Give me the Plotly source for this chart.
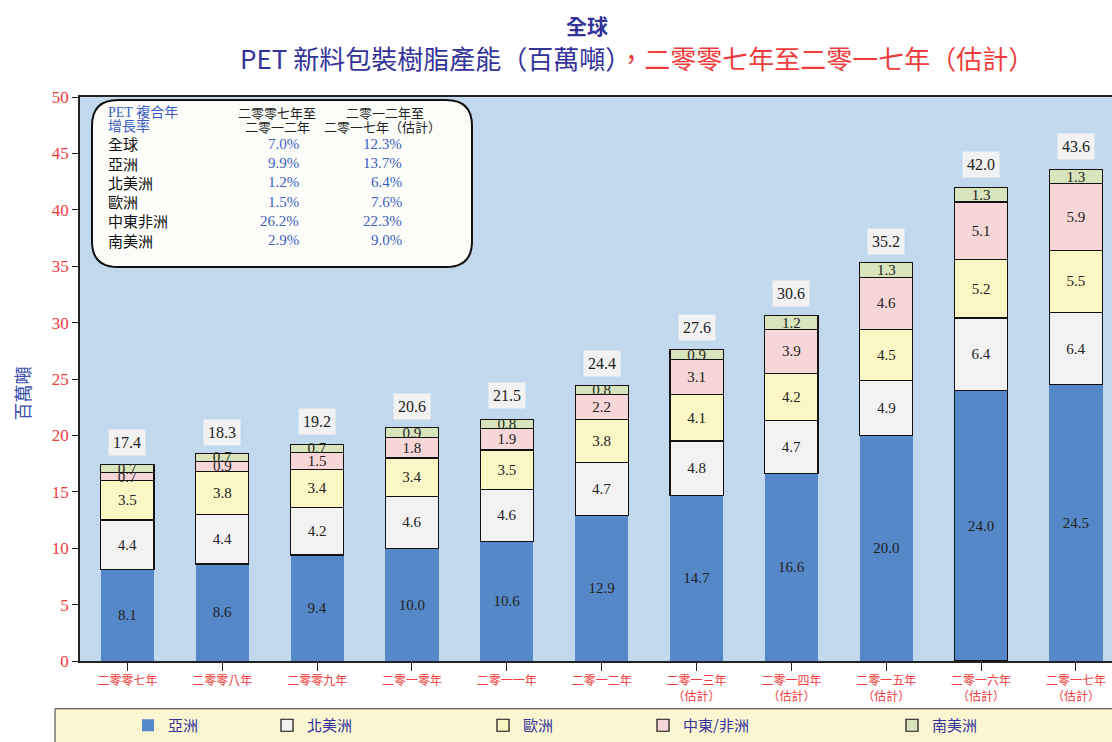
import plotly.graph_objects as go

# categories
years = ["二零零七年", "二零零八年", "二零零九年", "二零一零年", "二零一一年", "二零一二年",
         "二零一三年", "二零一四年", "二零一五年", "二零一六年", "二零一七年"]
estimated = [False] * 6 + [True] * 5

# capacity by region, million tonnes
asia = [8.1, 8.6, 9.4, 10.0, 10.6, 12.9, 14.7, 16.6, 20.0, 24.0, 24.5]
north_america = [4.4, 4.4, 4.2, 4.6, 4.6, 4.7, 4.8, 4.7, 4.9, 6.4, 6.4]
europe = [3.5, 3.8, 3.4, 3.4, 3.5, 3.8, 4.1, 4.2, 4.5, 5.2, 5.5]
mea = [0.7, 0.9, 1.5, 1.8, 1.9, 2.2, 3.1, 3.9, 4.6, 5.1, 5.9]
south_america = [0.7, 0.7, 0.7, 0.9, 0.8, 0.8, 0.9, 1.2, 1.3, 1.3, 1.3]
totals = [17.4, 18.3, 19.2, 20.6, 21.5, 24.4, 27.6, 30.6, 35.2, 42.0, 43.6]

# inset CAGR table
cagr_regions = ["全球", "亞洲", "北美洲", "歐洲", "中東非洲", "南美洲"]
cagr_07_12 = ["7.0%", "9.9%", "1.2%", "1.5%", "26.2%", "2.9%"]
cagr_12_17 = ["12.3%", "13.7%", "6.4%", "7.6%", "22.3%", "9.0%"]

W, H = 1112, 742
ML, MR, MT, MB = 80, 0, 97, 78
PW, PH = W - ML - MR, H - MT - MB


def px(x):
    return (x - ML) / PW


def py(y):
    return (H - MB - y) / PH


def note(x, y, text, font, anchor="center", **kw):
    fig.add_annotation(x=px(x), y=py(y), text=text, font=font, xref="paper", yref="paper",
                       xanchor=anchor, yanchor="middle", showarrow=False, **kw)


ticklabels = [y + ("<br>（估計）" if e else "") for y, e in zip(years, estimated)]
xs = list(range(len(years)))

BLUE = "#333399"
RED = "#F03C3C"
SERIF = "Liberation Serif, Noto Sans CJK TC, serif"
CJK = "Noto Sans CJK TC, sans-serif"

series = [
    ("亞洲", asia, "#5588C8"),
    ("北美洲", north_america, "#F2F2F2"),
    ("歐洲", europe, "#FAF7C5"),
    ("中東/非洲", mea, "#F6D6D6"),
    ("南美洲", south_america, "#D8E4BC"),
]
legend_x = [128, 267, 483, 643, 892]

fig = go.Figure()
for i, (name, vals, color) in enumerate(series):
    lw = 1.2
    if i == 0:
        lw = [1.2 if k == 9 else 0 for k in range(len(vals))]
    fig.add_trace(go.Bar(
        x=xs, y=vals, name=name,
        marker=dict(color=color, line=dict(color="#111111", width=lw)),
        text=[f"{v:.1f}" for v in vals],
        textposition="inside", insidetextanchor="middle", textangle=0,
        textfont=dict(family=SERIF, size=15, color="#222222"),
        legend=f"legend{i + 2}",
    ))

# totals above bars
for x, t in zip(xs, totals):
    fig.add_annotation(x=x, y=t + 2.0, text=f"{t:.1f}", showarrow=False,
                       font=dict(family=SERIF, size=16, color="#222222"),
                       bgcolor="#F2F2F2", borderpad=4)

# rounded box for table
x0, x1 = px(92), px(472)
y0, y1 = py(268), py(100)
rx, ry = 26 / PW, 26 / PH
path = (f"M {x0 + rx},{y1} L {x1 - rx},{y1} Q {x1},{y1} {x1},{y1 - ry} "
        f"L {x1},{y0 + ry} Q {x1},{y0} {x1 - rx},{y0} L {x0 + rx},{y0} "
        f"Q {x0},{y0} {x0},{y0 + ry} L {x0},{y1 - ry} Q {x0},{y1} {x0 + rx},{y1} Z")
fig.add_shape(type="path", path=path, xref="paper", yref="paper",
              fillcolor="#FCFCF9", line=dict(color="#111111", width=2))

# legend strip
fig.add_shape(type="rect", xref="paper", yref="paper",
              x0=px(55), x1=px(1120), y0=py(746), y1=py(712),
              fillcolor="#FAF6D2", line=dict(color="#333333", width=1))

bfont = dict(family=SERIF, size=15, color="#3C5FBF")
hfont = dict(family=SERIF, size=14, color="#3C5FBF")
note(106, 112, "PET 複合年", hfont, "left")
note(106, 126, "增長率", hfont, "left")
for txt, x, y in [("二零零七年至", 277, 113), ("二零一二年", 277, 127),
                  ("二零一二年至", 385, 113), ("二零一七年（估計）", 382, 127)]:
    note(x, y, txt, dict(family=CJK, size=13, color="#222222"))
for k, (r, a, b) in enumerate(zip(cagr_regions, cagr_07_12, cagr_12_17)):
    yy = 144 + k * 19.4
    note(106, yy, r, dict(family=CJK, size=15, color="#111111"), "left")
    note(301, yy, a, bfont, "right")
    note(404, yy, b, bfont, "right")

# titles
note(587, 25, "<b>全球</b>", dict(family=CJK, size=21, color=BLUE))
note(637, 57, f"<span style='color:{BLUE}'>PET 新料包裝樹脂產能（百萬噸）</span>"
              f"<span style='color:{RED}'>，二零零七年至二零一七年（估計）</span>",
     dict(family=CJK, size=26))
note(22, 395, "百萬噸", dict(family=CJK, size=18, color="#3C4FAF"), textangle=-90)

layout_legends = {}
for i, lx in enumerate(legend_x):
    layout_legends[f"legend{i + 2}"] = dict(
        x=px(lx), y=py(729), xanchor="left", yanchor="middle",
        orientation="h", bgcolor="rgba(0,0,0,0)",
        font=dict(family=CJK, size=15, color=BLUE),
        itemwidth=30, tracegroupgap=0)

fig.update_layout(
    width=W, height=H, margin=dict(l=ML, r=MR, t=MT, b=MB),
    barmode="stack", bargap=0.44,
    plot_bgcolor="#C2D8EC", paper_bgcolor="white",
    uniformtext=dict(minsize=15, mode="show"),
    showlegend=True,
    xaxis=dict(tickmode="array", tickvals=xs, ticktext=ticklabels, range=[-0.5, 10.38],
               tickson="boundaries", ticks="outside", ticklen=8, tickcolor="#222222",
               tickfont=dict(family=CJK, size=12, color=RED),
               showline=True, linecolor="#222222", linewidth=1.5, mirror=True,
               showgrid=False, zeroline=False),
    yaxis=dict(range=[0, 50], dtick=5, ticks="outside", ticklen=6, tickcolor="#222222",
               tickfont=dict(family=SERIF, size=17, color=RED),
               showline=True, linecolor="#222222", linewidth=1.5,
               showgrid=False, zeroline=False),
    **layout_legends,
)

fig.write_html("out.html", config={"displayModeBar": False},
               post_script="document.body.style.margin='0';"
                           "document.body.style.overflow='hidden';")
